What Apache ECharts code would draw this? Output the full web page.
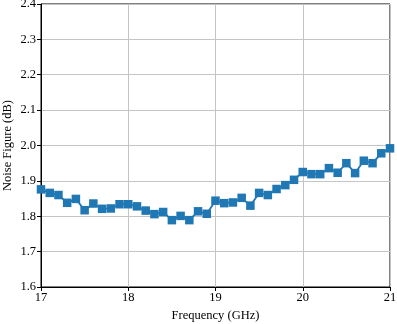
<html lang="en">
<head>
    <meta charset="UTF-8">
    <title>Noise Figure</title>
    <script src="https://cdn.jsdelivr.net/npm/echarts@6/dist/echarts.min.js"></script>
</head>
<body style="margin:0">
    <div id="main" style="width: 397px;height: 324px"></div>
    <script type="text/javascript">
        // frequency points (GHz) and measured noise figure (dB)
        var freq = [17.0, 17.1, 17.2, 17.3, 17.4, 17.5, 17.6, 17.7, 17.8, 17.9,
            18.0, 18.1, 18.2, 18.3, 18.4, 18.5, 18.6, 18.7, 18.8, 18.9,
            19.0, 19.1, 19.2, 19.3, 19.4, 19.5, 19.6, 19.7, 19.8, 19.9,
            20.0, 20.1, 20.2, 20.3, 20.4, 20.5, 20.6, 20.7, 20.8, 20.9, 21.0];
        var nf = [1.876, 1.866, 1.860, 1.838, 1.849, 1.817, 1.836, 1.821, 1.822, 1.834,
            1.834, 1.828, 1.816, 1.806, 1.812, 1.789, 1.801, 1.789, 1.814, 1.807,
            1.844, 1.837, 1.839, 1.852, 1.830, 1.866, 1.860, 1.877, 1.888, 1.903,
            1.925, 1.919, 1.919, 1.936, 1.923, 1.950, 1.922, 1.957, 1.950, 1.978, 1.992];
        var yTicks = [1.6, 1.7, 1.8, 1.9, 2.0, 2.1, 2.2, 2.3, 2.4];

        var myChart = echarts.init(document.getElementById('main'));
        var font = 'Liberation Serif';
        var points = freq.map(function (f, i) { return [f, nf[i]]; });

        var option = {
            animation: false,
            textStyle: { fontFamily: font },
            grid: {
                left: 41, right: 7, top: 4, bottom: 37,
                containLabel: false,
                outerBoundsMode: 'none',
                show: true, borderColor: '#000', borderWidth: 1
            },
            xAxis: {
                type: 'value',
                min: 17, max: 21, interval: 1,
                name: 'Frequency (GHz)',
                nameLocation: 'middle',
                nameGap: 21,
                nameTextStyle: { fontFamily: font, fontSize: 12.5, color: '#000' },
                axisLine: { lineStyle: { color: '#000' } },
                axisTick: { show: true, length: 4, lineStyle: { color: '#000' } },
                axisLabel: { fontFamily: font, fontSize: 12.5, color: '#000', margin: 4 },
                splitLine: { show: true, lineStyle: { color: '#c4c4c4', width: 1 } }
            },
            yAxis: {
                type: 'value',
                min: yTicks[0], max: yTicks[yTicks.length - 1], interval: 0.1,
                name: 'Noise Figure (dB)',
                nameLocation: 'middle',
                nameGap: 27,
                nameMoveOverlap: false,
                nameTextStyle: { fontFamily: font, fontSize: 12.5, color: '#000' },
                axisLine: { show: true, lineStyle: { color: '#000' } },
                axisTick: { show: true, length: 4, lineStyle: { color: '#000' } },
                axisLabel: {
                    fontFamily: font, fontSize: 12.5, color: '#000', margin: 5,
                    formatter: function (v) { return v.toFixed(1); }
                },
                splitLine: { show: true, lineStyle: { color: '#c4c4c4', width: 1 } }
            },
            series: [{
                type: 'line',
                data: points,
                symbol: 'rect',
                symbolSize: 8.5,
                itemStyle: { color: '#1f77b4' },
                lineStyle: { color: '#1f77b4', width: 1.8 }
            }]
        };
        myChart.setOption(option);
    </script>
</body>
</html>
